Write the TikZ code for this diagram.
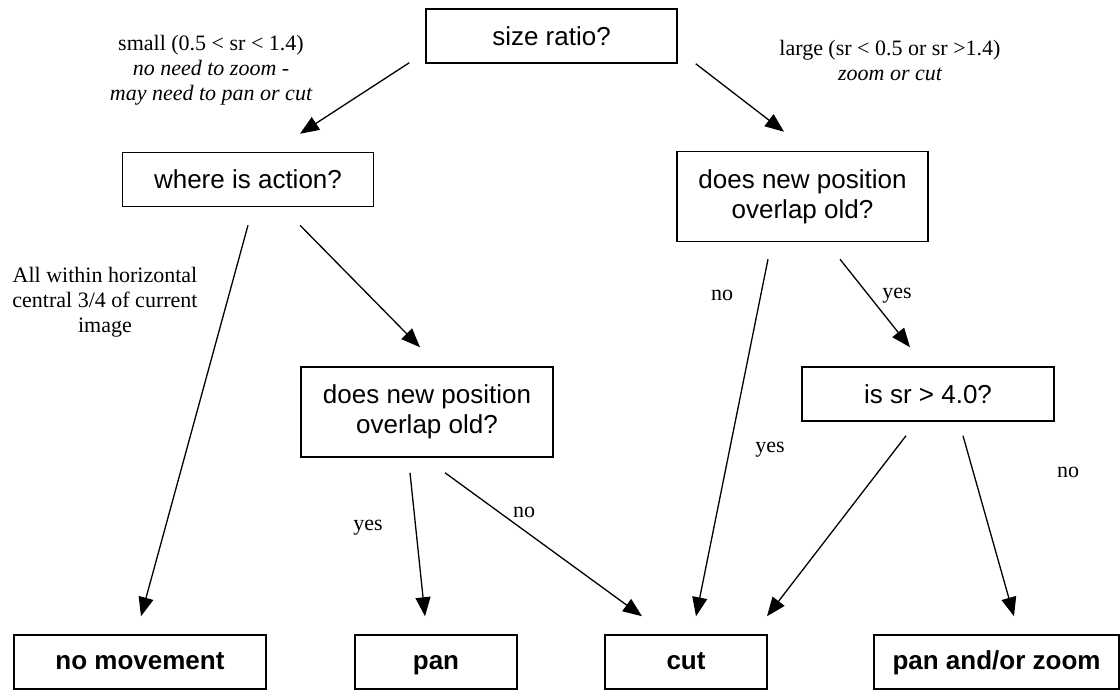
\documentclass[tikz,border=0pt]{standalone}
\usepackage{fontspec}
\setmainfont{Liberation Serif}
\setsansfont{Liberation Sans}
\usetikzlibrary{arrows.meta,calc}
\tikzset{
  box/.style={draw=black,line width=1.5pt,minimum width=251pt,minimum height=54pt,inner sep=0pt,align=center,font=\sffamily\fontsize{26}{30}\selectfont},
  tallbox/.style={box,minimum height=90pt},
  endbox/.style={box,text height=19pt,text depth=5pt,font=\sffamily\bfseries\fontsize{26}{30}\selectfont},
  arrow/.style={-{Triangle[length=19pt,width=15pt]},line width=1.3pt},
  lbl/.style={align=center,inner sep=0pt,font=\fontsize{22}{25}\selectfont},
}
\begin{document}
\begin{tikzpicture}[x=1pt,y=-1pt]
\useasboundingbox (0,0) rectangle (1120,691);

% questions
\node[box] (ratio) at (551.5,36) {size ratio?};
\node[box] (where) at (248,179.5) {where is action?};
\node[tallbox] (rover) at (802.5,196.5) {does new position\\overlap old?};
\node[tallbox,minimum width=252pt] (mover) at (427,412) {does new position\\overlap old?};
\node[box,minimum width=252pt] (big) at (928,394) {is sr > 4.0?};

% outcomes
\node[endbox,minimum width=252pt] (nomove) at (140,662) {no movement};
\node[endbox,minimum width=162pt] (pan) at (436,662) {pan};
\node[endbox,minimum width=162pt] (cut) at (686,662) {cut};
\node[endbox,minimum width=245pt] (pz) at (996.5,662) {pan and/or zoom};

% branch labels
\node[lbl] (small) at (211,70) {small (0.5 < sr < 1.4)\\\itshape no need to zoom -\\\itshape may need to pan or cut};
\node[lbl] (large) at (890,60) {large (sr < 0.5 or sr >1.4)\\\itshape zoom or cut};
\node[lbl] (within) at (105,302) {All within horizontal\\central 3/4 of current\\image};
\node[lbl] (rno) at (722,295) {no};
\node[lbl] (ryes) at (897,296) {yes};
\node[lbl] (myes) at (368,528) {yes};
\node[lbl] (mno) at (524,512) {no};
\node[lbl] (byes) at (770,450) {yes};
\node[lbl] (bno) at (1068,472) {no};

% connectors
\draw[arrow] ($(ratio.south west)+(-16,-1)$) -- ($(where.north)+(52,-18)$);
\draw[arrow] ($(ratio.south east)+(18,0)$) -- ($(rover.north)+(-18.5,-19)$);
\draw[arrow] ($(where.south)+(0,18)$) -- ($(nomove.north)+(1,-18)$);
\draw[arrow] ($(where.south)+(52,18)$) -- ($(mover.north)+(-7,-19)$);
\draw[arrow] ($(rover.south)+(-34.5,17)$) -- ($(cut.north)+(10,-18)$);
\draw[arrow] ($(rover.south)+(37.5,17)$) -- ($(big.north)+(-18,-19)$);
\draw[arrow] ($(mover.south)+(-17,15)$) -- ($(pan.north)+(-11,-18)$);
\draw[arrow] ($(mover.south)+(18,15)$) -- ($(cut.north)+(-44,-18)$);
\draw[arrow] ($(big.south)+(-22,14)$) -- ($(cut.north)+(81,-18)$);
\draw[arrow] ($(big.south)+(35,14)$) -- ($(pz.north)+(17.5,-18)$);

\end{tikzpicture}
\end{document}
